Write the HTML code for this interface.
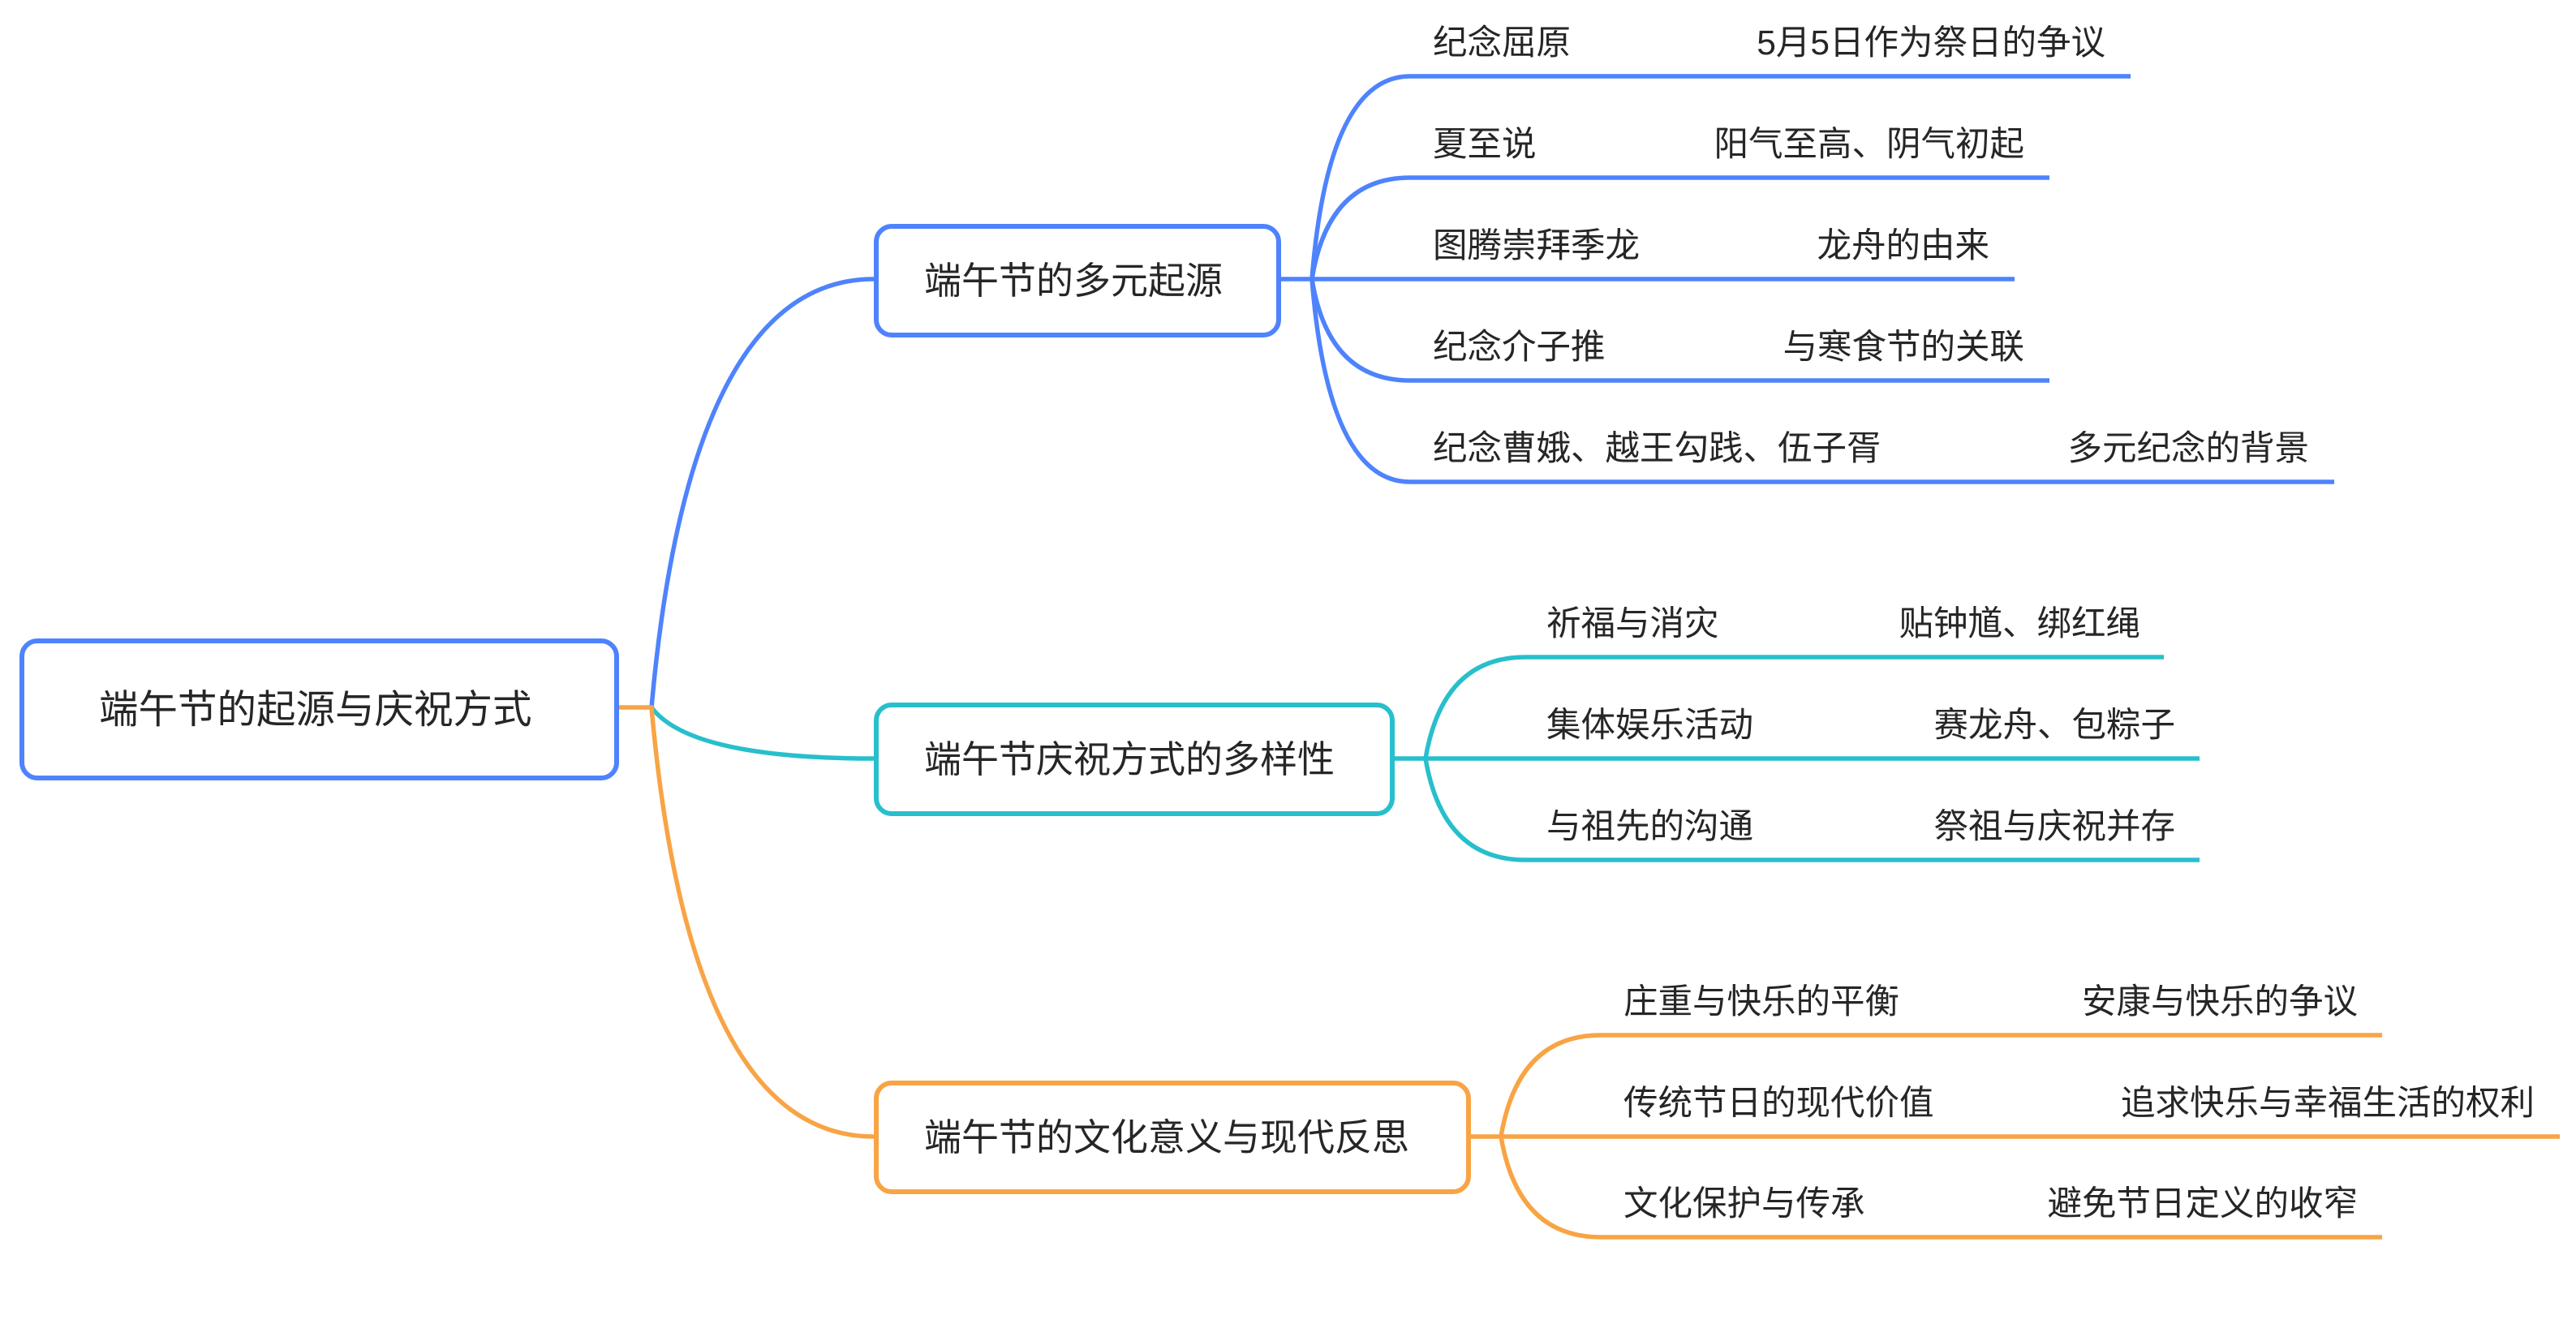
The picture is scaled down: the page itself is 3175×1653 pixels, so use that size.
<!DOCTYPE html>
<html>
<head>
<meta charset="utf-8">
<style>
  html, body { margin: 0; padding: 0; background: #ffffff; }
  svg { display: block; }
  text { font-family: "Liberation Sans", "Noto Sans CJK SC", sans-serif; fill: #262626; }
  .c { font-size: 42.5px; }
  .b { font-size: 46px; }
  .r { font-size: 48.5px; }
</style>
</head>
<body>
<svg width="3175" height="1653" viewBox="0 0 3175 1653" xmlns="http://www.w3.org/2000/svg">
  <rect x="0" y="0" width="3175" height="1653" fill="#ffffff"/>

  <g fill="none" stroke-width="5.5" stroke-linecap="butt">
    <!-- Blue branch -->
    <g stroke="#4e83fd">
      <path d="M803 872 Q850 344 1077 344"/>
      <path d="M1579 344 H2483"/>
      <path d="M1617 344 Q1637 94 1738 94 H2626"/>
      <path d="M1617 344 Q1637 219 1738 219 H2526"/>
      <path d="M1617 344 Q1637 469 1738 469 H2526"/>
      <path d="M1617 344 Q1637 594 1738 594 H2877"/>
    </g>
    <!-- Teal branch -->
    <g stroke="#28bfcc">
      <path d="M803 872 Q850 935 1077 935"/>
      <path d="M1719 935 H2711"/>
      <path d="M1757 935 Q1778 810 1880 810 H2667"/>
      <path d="M1757 935 Q1778 1060 1880 1060 H2711"/>
    </g>
    <!-- Orange branch -->
    <g stroke="#f8a445">
      <path d="M803 872 Q850 1401 1077 1401"/>
      <path d="M760 872 H805"/>
      <path d="M1813 1401 H3155"/>
      <path d="M1850 1401 Q1871 1276 1973 1276 H2936"/>
      <path d="M1850 1401 Q1871 1525 1973 1525 H2936"/>
    </g>
  </g>

  <!-- Boxes -->
  <rect x="27" y="790" width="733" height="169" rx="19" ry="19" fill="#ffffff" stroke="#4e83fd" stroke-width="6"/>
  <rect x="1080" y="279" width="496" height="134" rx="19" ry="19" fill="#ffffff" stroke="#4e83fd" stroke-width="6"/>
  <rect x="1080" y="869" width="636" height="134" rx="19" ry="19" fill="#ffffff" stroke="#28bfcc" stroke-width="6"/>
  <rect x="1080" y="1335" width="730" height="134" rx="19" ry="19" fill="#ffffff" stroke="#f8a445" stroke-width="6"/>

  <!-- Box texts -->
  <text class="r" x="122" y="891">端午节的起源与庆祝方式</text>
  <text class="b" x="1139" y="362">端午节的多元起源</text>
  <text class="b" x="1139" y="952">端午节庆祝方式的多样性</text>
  <text class="b" x="1139" y="1418">端午节的文化意义与现代反思</text>

  <!-- Blue children -->
  <text class="c" x="1766" y="67">纪念屈原</text>
  <text class="c" x="2595" y="67" text-anchor="end">5月5日作为祭日的争议</text>
  <text class="c" x="1766" y="192">夏至说</text>
  <text class="c" x="2495" y="192" text-anchor="end">阳气至高、阴气初起</text>
  <text class="c" x="1766" y="317">图腾崇拜季龙</text>
  <text class="c" x="2452" y="317" text-anchor="end">龙舟的由来</text>
  <text class="c" x="1766" y="442">纪念介子推</text>
  <text class="c" x="2495" y="442" text-anchor="end">与寒食节的关联</text>
  <text class="c" x="1766" y="567">纪念曹娥、越王勾践、伍子胥</text>
  <text class="c" x="2846" y="567" text-anchor="end">多元纪念的背景</text>

  <!-- Teal children -->
  <text class="c" x="1906" y="783">祈福与消灾</text>
  <text class="c" x="2638" y="783" text-anchor="end">贴钟馗、绑红绳</text>
  <text class="c" x="1906" y="908">集体娱乐活动</text>
  <text class="c" x="2681" y="908" text-anchor="end">赛龙舟、包粽子</text>
  <text class="c" x="1906" y="1033">与祖先的沟通</text>
  <text class="c" x="2681" y="1033" text-anchor="end">祭祖与庆祝并存</text>

  <!-- Orange children -->
  <text class="c" x="2001" y="1249">庄重与快乐的平衡</text>
  <text class="c" x="2906" y="1249" text-anchor="end">安康与快乐的争议</text>
  <text class="c" x="2001" y="1374">传统节日的现代价值</text>
  <text class="c" x="3124" y="1374" text-anchor="end">追求快乐与幸福生活的权利</text>
  <text class="c" x="2001" y="1498">文化保护与传承</text>
  <text class="c" x="2906" y="1498" text-anchor="end">避免节日定义的收窄</text>
</svg>
</body>
</html>
